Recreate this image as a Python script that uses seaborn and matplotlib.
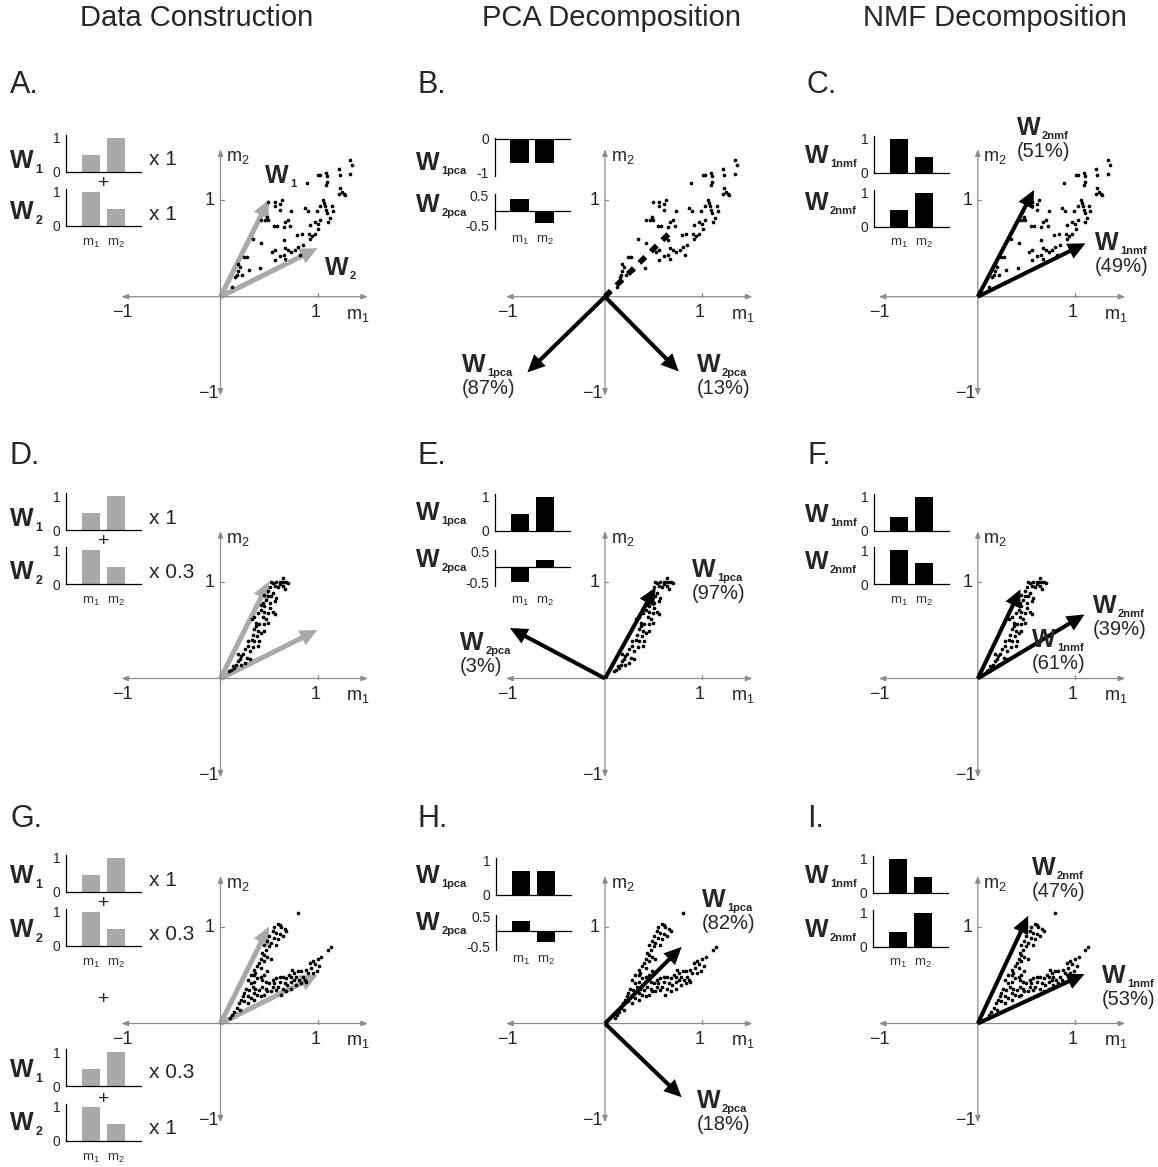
import matplotlib
matplotlib.use("Agg")
import matplotlib.pyplot as plt
from matplotlib.transforms import blended_transform_factory
import seaborn as sns

# ---------------------------------------------------------------- data
# Sample cloud built from W1 x 1 + W2 x 1 (panels A-C), (m1, m2) pairs
cloud_equal = [
    (1.34, 1.41), (1.36, 1.36), (1.34, 1.27), (1.22, 1.32), (1.23, 1.25), (1.09, 1.28),
    (1.10, 1.24), (1.01, 1.25), (1.03, 1.25), (1.10, 1.18), (1.09, 1.15), (0.89, 1.17),
    (1.23, 1.12), (1.25, 1.08), (1.27, 1.06), (1.22, 1.06), (1.28, 1.05), (1.06, 1.00),
    (1.07, 0.97), (1.08, 0.93), (1.09, 0.89), (1.10, 0.86), (1.15, 0.93), (1.16, 0.88),
    (1.03, 0.94), (0.87, 0.91), (0.90, 0.88), (0.99, 0.88), (1.13, 0.81), (1.11, 0.77),
    (1.03, 0.79), (1.00, 0.75), (1.01, 0.70), (0.97, 0.65), (0.94, 0.63), (0.91, 0.65),
    (0.92, 0.60), (0.84, 0.65), (0.79, 0.64), (0.92, 0.74), (0.97, 0.77), (0.49, 0.98),
    (0.56, 0.98), (0.61, 0.96), (0.63, 1.00), (0.56, 0.93), (0.61, 0.89), (0.73, 0.88),
    (0.70, 0.79), (0.67, 0.77), (0.72, 0.73), (0.65, 0.72), (0.58, 0.73), (0.55, 0.73),
    (0.49, 0.79), (0.46, 0.79), (0.42, 0.79), (0.48, 0.82), (0.34, 0.60), (0.42, 0.55),
    (0.65, 0.58), (0.53, 0.46), (0.56, 0.48), (0.67, 0.50), (0.70, 0.48), (0.73, 0.46),
    (0.77, 0.48), (0.61, 0.42), (0.65, 0.43), (0.67, 0.39), (0.56, 0.38), (0.82, 0.43),
    (0.24, 0.41), (0.27, 0.41), (0.18, 0.34), (0.20, 0.31), (0.18, 0.26), (0.17, 0.22),
    (0.22, 0.22), (0.29, 0.28), (0.41, 0.30), (0.12, 0.10), (0.15, 0.20), (0.85, 0.53),
    (0.80, 0.51),
]

# Sample cloud built from W1 x 1 + W2 x 0.3 (panels D-F)
cloud_skewed = [
    (0.64, 1.04), (0.66, 1.00), (0.68, 0.99), (0.70, 0.98), (0.63, 0.99), (0.61, 1.00),
    (0.57, 0.99), (0.54, 0.98), (0.52, 0.99), (0.56, 0.95), (0.59, 0.94), (0.66, 0.92),
    (0.51, 0.94), (0.49, 0.90), (0.54, 0.88), (0.57, 0.83), (0.52, 0.85), (0.49, 0.85),
    (0.45, 0.86), (0.47, 0.81), (0.44, 0.78), (0.42, 0.76), (0.45, 0.75), (0.51, 0.73),
    (0.54, 0.69), (0.56, 0.66), (0.49, 0.68), (0.45, 0.69), (0.42, 0.71), (0.39, 0.68),
    (0.44, 0.63), (0.47, 0.61), (0.49, 0.57), (0.45, 0.56), (0.40, 0.56), (0.37, 0.54),
    (0.35, 0.51), (0.39, 0.49), (0.42, 0.47), (0.45, 0.49), (0.38, 0.44), (0.33, 0.45),
    (0.32, 0.40), (0.35, 0.39), (0.40, 0.39), (0.39, 0.33), (0.34, 0.32), (0.28, 0.33),
    (0.30, 0.28), (0.25, 0.30), (0.23, 0.25), (0.21, 0.23), (0.27, 0.21), (0.20, 0.20),
    (0.18, 0.18), (0.16, 0.14), (0.21, 0.14), (0.14, 0.11), (0.11, 0.09), (0.25, 0.16),
    (0.30, 0.20), (0.18, 0.25), (0.13, 0.13), (0.09, 0.08), (0.28, 0.39), (0.32, 0.61),
    (0.35, 0.63), (0.37, 0.57), (0.51, 0.78), (0.61, 0.97), (0.64, 0.95), (0.56, 0.80),
]

# Two sub-populations: (W1 x 1 + W2 x 0.3) and (W1 x 0.3 + W2 x 1) (panels G-I)
cloud_mixed = [
    (0.80, 1.14), (0.59, 1.03), (0.61, 1.02), (0.55, 1.00), (0.62, 0.99), (0.66, 0.97),
    (0.68, 0.95), (0.54, 0.95), (0.57, 0.93), (0.61, 0.92), (0.64, 0.90), (0.50, 0.90),
    (0.55, 0.88), (0.59, 0.87), (0.48, 0.85), (0.52, 0.83), (0.57, 0.81), (0.45, 0.81),
    (0.50, 0.80), (0.47, 0.76), (0.43, 0.73), (0.45, 0.71), (0.48, 0.69), (0.52, 0.66),
    (0.42, 0.66), (0.45, 0.64), (0.40, 0.62), (0.38, 0.59), (0.42, 0.57), (0.35, 0.55),
    (0.36, 0.52), (1.14, 0.79), (1.11, 0.76), (1.04, 0.69), (1.00, 0.66), (0.95, 0.64),
    (0.92, 0.62), (0.97, 0.61), (1.02, 0.59), (0.93, 0.57), (0.88, 0.55), (0.99, 0.54),
    (0.95, 0.52), (0.90, 0.52), (0.83, 0.54), (0.80, 0.54), (0.76, 0.52), (0.74, 0.55),
    (0.71, 0.50), (0.78, 0.48), (0.85, 0.48), (0.87, 0.45), (0.81, 0.45), (0.76, 0.45),
    (0.73, 0.43), (0.68, 0.47), (0.64, 0.48), (0.61, 0.48), (0.57, 0.47), (0.54, 0.45),
    (0.55, 0.42), (0.61, 0.43), (0.66, 0.42), (0.69, 0.40), (0.64, 0.36), (0.59, 0.38),
    (0.54, 0.38), (0.50, 0.42), (0.47, 0.43), (0.43, 0.45), (0.42, 0.48), (0.38, 0.47),
    (0.35, 0.43), (0.31, 0.42), (0.33, 0.38), (0.36, 0.36), (0.40, 0.35), (0.43, 0.38),
    (0.47, 0.36), (0.48, 0.33), (0.45, 0.29), (0.42, 0.28), (0.38, 0.29), (0.35, 0.31),
    (0.29, 0.35), (0.26, 0.36), (0.24, 0.31), (0.28, 0.28), (0.31, 0.26), (0.23, 0.28),
    (0.21, 0.24), (0.24, 0.23), (0.19, 0.21), (0.28, 0.21), (0.35, 0.24), (0.52, 0.33),
    (0.57, 0.35), (0.62, 0.29), (0.68, 0.33), (0.73, 0.36), (0.78, 0.40), (0.83, 0.42),
    (0.88, 0.43), (0.73, 0.48), (0.45, 0.50), (0.48, 0.54), (0.31, 0.50), (0.28, 0.45),
    (0.35, 0.50), (0.14, 0.12), (0.17, 0.16), (0.12, 0.09), (0.20, 0.14), (0.10, 0.06),
]

# Generating components and their weights
comp_w1 = [0.5, 1.0]
comp_w2 = [1.0, 0.5]
weights_a = ["x 1", "x 1"]
weights_d = ["x 1", "x 0.3"]
weights_g = ["x 1", "x 0.3", "x 0.3", "x 1"]

# Recovered components (bar heights for m1, m2)
pca_b = [[-0.71, -0.71], [0.39, -0.40]]
nmf_c = [[1.0, 0.47], [0.5, 1.0]]
pca_e = [[0.5, 1.0], [-0.5, 0.25]]
nmf_f = [[0.4, 1.0], [1.0, 0.62]]
pca_h = [[0.70, 0.70], [0.35, -0.37]]
nmf_i = [[1.0, 0.45], [0.43, 1.0]]

# Component vectors drawn in the m1-m2 plane
arrows_true = [(0.5, 1.0), (1.0, 0.5)]
arrows_b = [(-0.80, -0.78), (0.76, -0.77)]
axis_b = (0.70, 0.69)
arrows_c = [(1.11, 0.55), (0.58, 1.10)]
arrows_e = [(0.52, 0.94), (-0.98, 0.52)]
arrows_f = [(0.44, 0.92), (1.10, 0.66)]
arrows_h = [(0.79, 0.79), (0.79, -0.76)]
arrows_i = [(1.10, 0.51), (0.52, 1.11)]

# Explained variance per component
var_b = ["(87%)", "(13%)"]
var_c = ["(49%)", "(51%)"]
var_e = ["(97%)", "(3%)"]
var_f = ["(61%)", "(39%)"]
var_h = ["(82%)", "(18%)"]
var_i = ["(53%)", "(47%)"]

column_titles = ["Data Construction", "PCA Decomposition", "NMF Decomposition"]
panel_letters = ["A.", "B.", "C.", "D.", "E.", "F.", "G.", "H.", "I."]

# ---------------------------------------------------------------- style
sns.set_theme(style="white")
plt.rcParams["font.family"] = ["Liberation Sans", "DejaVu Sans"]
plt.rcParams["mathtext.fontset"] = "custom"
plt.rcParams["mathtext.rm"] = "Liberation Sans"
plt.rcParams["mathtext.it"] = "Liberation Sans:italic"
plt.rcParams["mathtext.bf"] = "Liberation Sans:bold"

FIG_W, FIG_H = 1158, 1167
GREY = "#a9a9a9"
AXIS_GREY = "#8c8c8c"
UNIT = 97.0                      # pixels per data unit in the scatter panels
LIM = (-1.15, 1.65)
ORIGIN_X = [220.5, 605.0, 977.8]
ORIGIN_Y = [296.7, 678.5, 1023.5]

fig = plt.figure(figsize=(FIG_W / 100, FIG_H / 100), dpi=100)
renderer = fig.canvas.get_renderer()


def put(x, y, s, **kw):
    """Figure text positioned in top-down pixel coordinates."""
    return fig.text(x / FIG_W, 1 - y / FIG_H, s, **kw)


def w_label(x, baseline, sub, size=18, subsize=8, drop=4):
    t = put(x, baseline, "W", fontsize=size, fontweight="bold", ha="left", va="baseline")
    bb = t.get_window_extent(renderer)
    put(bb.x1 + 1.5, baseline + drop, sub, fontsize=subsize, fontweight="bold",
        ha="left", va="baseline")


def m_label(ax, xpos, ypix, idx):
    tr = blended_transform_factory(ax.transData, fig.transFigure)
    ax.text(xpos, 1 - ypix / FIG_H, r"$\mathrm{m}_%d$" % idx, transform=tr,
            ha="center", va="center", fontsize=9.5, color="#333333")


def bar_inset(spine_x, zero_y, values, color, kind, m_y=None):
    if kind == "pos":
        lo, hi, ppu, ticks, labels = 0.0, 1.08, 34.0, [0, 1], ["0", "1"]
    elif kind == "neg":
        lo, hi, ppu, ticks, labels = -1.08, 0.04, 34.0, [0, -1], ["0", "-1"]
    else:
        lo, hi, ppu, ticks, labels = -0.62, 0.55, 30.0, [0.5, -0.5], ["0.5", "-0.5"]
    top = zero_y - hi * ppu
    bottom = zero_y - lo * ppu
    ax = fig.add_axes([spine_x / FIG_W, 1 - bottom / FIG_H, 75 / FIG_W, (bottom - top) / FIG_H])
    ax.patch.set_alpha(0)
    sns.barplot(x=[1, 2], y=values, native_scale=True, width=0.73, color=color,
                saturation=1, errorbar=None, ax=ax, linewidth=0)
    ax.set_xlim(0, 3)
    ax.set_ylim(lo, hi)
    for side in ("top", "right"):
        ax.spines[side].set_visible(False)
    for side in ("left", "bottom"):
        ax.spines[side].set_color("black")
        ax.spines[side].set_linewidth(0.9)
    ax.spines["bottom"].set_position(("data", 0))
    ax.set_xticks([])
    ax.set_yticks(ticks)
    ax.set_yticklabels(labels)
    ax.tick_params(axis="y", length=0, pad=4, labelsize=10)
    ax.set_xlabel("")
    ax.set_ylabel("")
    if m_y is not None:
        m_label(ax, 1, m_y, 1)
        m_label(ax, 2, m_y, 2)
    return ax


def scatter_panel(col, row, cloud):
    ox, oy = ORIGIN_X[col], ORIGIN_Y[row]
    span = (LIM[1] - LIM[0]) * UNIT
    left = ox + LIM[0] * UNIT
    bottom = oy - LIM[0] * UNIT
    ax = fig.add_axes([left / FIG_W, 1 - bottom / FIG_H, span / FIG_W, span / FIG_H])
    ax.set_axis_off()
    arrow_kw = dict(arrowstyle="<|-|>,head_length=0.55,head_width=0.22", color=AXIS_GREY,
                    lw=0.9, shrinkA=0, shrinkB=0, mutation_scale=7)
    ax.annotate("", xy=(1.52, 0), xytext=(-1.02, 0), arrowprops=arrow_kw)
    ax.annotate("", xy=(0, 1.52), xytext=(0, -1.02), arrowprops=arrow_kw)
    ax.plot([1, 1], [0, 0.035], color=AXIS_GREY, lw=0.9)
    ax.plot([0, 0.035], [1, 1], color=AXIS_GREY, lw=0.9)
    fs = 13
    ax.text(-1.01, -0.16, "\u22121", ha="center", va="center", fontsize=fs)
    ax.text(0.98, -0.16, "1", ha="center", va="center", fontsize=fs)
    ax.text(-0.11, 0.99, "1", ha="center", va="center", fontsize=fs)
    ax.text(-0.13, -1.0, "\u22121", ha="center", va="center", fontsize=fs)
    ax.text(1.42, -0.19, r"$\mathrm{m}_1$", ha="center", va="center", fontsize=fs)
    ax.text(0.18, 1.43, r"$\mathrm{m}_2$", ha="center", va="center", fontsize=fs)
    sns.scatterplot(x=[p[0] for p in cloud], y=[p[1] for p in cloud], ax=ax,
                    color="black", s=7, linewidth=0, legend=False, zorder=3)
    ax.set_xlim(LIM)
    ax.set_ylim(LIM)
    ax.set_axis_off()
    return ax


def vec(ax, v, color, shaft, z):
    ax.arrow(0, 0, v[0], v[1], width=shaft, head_width=0.17, head_length=0.18,
             length_includes_head=True, fc=color, ec="none", zorder=z)


def arrow_label(x, baseline, sub, pct):
    w_label(x, baseline, sub, size=18, subsize=8, drop=4)
    put(x, baseline + 22, pct, fontsize=14.5, ha="left", va="baseline")


# ---------------------------------------------------------------- titles and letters
for title, cx in zip(column_titles, [197, 612, 995]):
    put(cx, 18, title, fontsize=21, ha="center", va="center")
letter_x = [10, 418, 807]
letter_y = [93, 464, 827]
for i, letter in enumerate(panel_letters):
    put(letter_x[i % 3], letter_y[i // 3], letter, fontsize=22, ha="left", va="baseline")

# ---------------------------------------------------------------- column 1: construction
def construction_stack(zeros, baselines, weights, weight_y, plus_y, m_y):
    comps = [comp_w1, comp_w2] * (len(zeros) // 2)
    for k, (z, b) in enumerate(zip(zeros, baselines)):
        last = (k % 2 == 1)
        bar_inset(66, z, comps[k], GREY, "pos", m_y[k // 2] if last else None)
        w_label(10, b, str(k % 2 + 1), size=18, subsize=9, drop=5)
        put(149, weight_y[k], weights[k], fontsize=15, ha="left", va="center")
    for y in plus_y:
        put(104, y, "+", fontsize=14, ha="center", va="center")


construction_stack([171.7, 225.7], [167.7, 218.5], weights_a, [159.3, 215], [183.3], [243])
construction_stack([530, 584], [526, 579], weights_d, [518, 572], [541.5], [601])
construction_stack([891.7, 945.7, 1086, 1140.7], [883, 936.7, 1076.7, 1130], weights_g,
                   [880, 935, 1072.7, 1128.3], [903.3, 999.3, 1099], [963.3, 1158])

for row, cloud in enumerate([cloud_equal, cloud_skewed, cloud_mixed]):
    ax = scatter_panel(0, row, cloud)
    for v in arrows_true:
        vec(ax, v, GREY, 0.052, 2)
    if row == 0:
        w_label(265, 183.3, "1", size=18, subsize=8)
        w_label(325, 275, "2", size=18, subsize=8)

# ---------------------------------------------------------------- column 2: PCA
pca_sets = [
    (pca_b, ["neg", "mid"], [139, 210.7], [170, 211.7], 240, 494.5),
    (pca_e, ["pos", "mid"], [531, 567], [520, 566.7], 601.7, 495),
    (pca_h, ["pos", "mid"], [895, 931], [883, 930], 960, 496),
]
for (vals, kinds, zeros, bases, my, sx) in pca_sets:
    for k in range(2):
        bar_inset(sx, zeros[k], vals[k], "black", kinds[k], my if k == 1 else None)
        w_label(416, bases[k], "%dpca" % (k + 1), size=18, subsize=8, drop=4)

ax = scatter_panel(1, 0, cloud_equal)
ax.plot([0, axis_b[0]], [0, axis_b[1]], color="black", lw=4, ls=(0, (1.5, 1.4)),
        solid_capstyle="butt", zorder=4)
for v in arrows_b:
    vec(ax, v, "black", 0.042, 4)
arrow_label(462, 371.7, "1pca", var_b[0])
arrow_label(696.7, 371.7, "2pca", var_b[1])

ax = scatter_panel(1, 1, cloud_skewed)
for v in arrows_e:
    vec(ax, v, "black", 0.042, 4)
arrow_label(691.7, 576.7, "1pca", var_e[0])
arrow_label(460, 650, "2pca", var_e[1])

ax = scatter_panel(1, 2, cloud_mixed)
for v in arrows_h:
    vec(ax, v, "black", 0.042, 4)
arrow_label(701.7, 906.7, "1pca", var_h[0])
arrow_label(696.7, 1108.3, "2pca", var_h[1])

# ---------------------------------------------------------------- column 3: NMF
nmf_sets = [
    (nmf_c, [172.7, 226.7], [163, 210], 243.3, 874),
    (nmf_f, [531, 584], [522, 569], 601.5, 874),
    (nmf_i, [892.7, 946.7], [883, 936.7], 963.3, 873),
]
for (vals, zeros, bases, my, sx) in nmf_sets:
    for k in range(2):
        bar_inset(sx, zeros[k], vals[k], "black", "pos", my if k == 1 else None)
        w_label(805, bases[k], "%dnmf" % (k + 1), size=18, subsize=8, drop=4)

ax = scatter_panel(2, 0, cloud_equal)
for v in arrows_c:
    vec(ax, v, "black", 0.042, 4)
arrow_label(1095, 250, "1nmf", var_c[0])
arrow_label(1016.7, 135, "2nmf", var_c[1])

ax = scatter_panel(2, 1, cloud_skewed)
for v in arrows_f:
    vec(ax, v, "black", 0.042, 4)
arrow_label(1032, 647, "1nmf", var_f[0])
arrow_label(1093, 613, "2nmf", var_f[1])

ax = scatter_panel(2, 2, cloud_mixed)
for v in arrows_i:
    vec(ax, v, "black", 0.042, 4)
arrow_label(1101.7, 983.3, "1nmf", var_i[0])
arrow_label(1031.7, 875, "2nmf", var_i[1])

fig.savefig("out.png", dpi=100, facecolor="white")
